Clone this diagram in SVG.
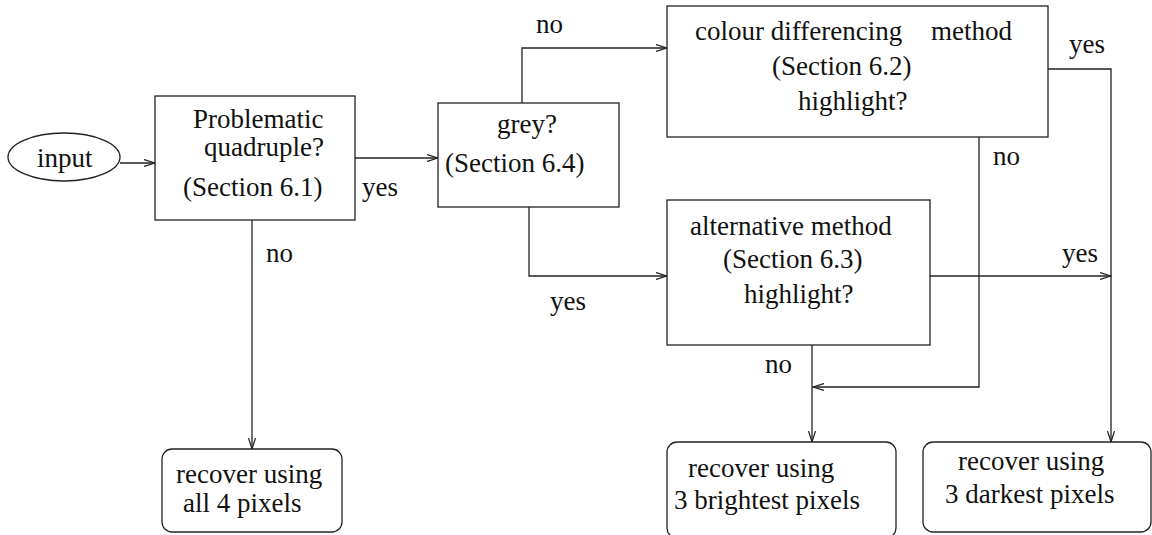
<svg xmlns="http://www.w3.org/2000/svg" width="1152" height="535" viewBox="0 0 1152 535">
<defs>
<style>
.n{fill:#fff;stroke:#222;stroke-width:1.3}
.c{fill:none;stroke:#222;stroke-width:1.3}
text{font-family:"Liberation Serif","Times New Roman",serif;font-size:27px;fill:#111}
</style>
<marker id="a" markerUnits="userSpaceOnUse" markerWidth="12" markerHeight="8" refX="11" refY="4" orient="auto">
<path d="M0,0.5 L11,4 L0,7.5" fill="none" stroke="#222" stroke-width="1.2"/>
</marker>
</defs>
<rect width="1152" height="535" fill="#fff"/>
<g id="connectors">
<path class="c" d="M120,163 H155" marker-end="url(#a)"/>
<path class="c" d="M355,158 H438" marker-end="url(#a)"/>
<path class="c" d="M252,220 V449" marker-end="url(#a)"/>
<path class="c" d="M522,103 V48 H667" marker-end="url(#a)"/>
<path class="c" d="M529,207 V276 H667" marker-end="url(#a)"/>
<path class="c" d="M1048,69 H1111 V442" marker-end="url(#a)"/>
<path class="c" d="M979,137 V387 H813" marker-end="url(#a)"/>
<path class="c" d="M930,276 H1111" marker-end="url(#a)"/>
<path class="c" d="M812,345 V442" marker-end="url(#a)"/>
<text x="362" y="196">yes</text>
<text x="266" y="262">no</text>
<text x="536" y="33">no</text>
<text x="550" y="310">yes</text>
<text x="1069" y="53">yes</text>
<text x="993" y="165">no</text>
<text x="1062" y="262">yes</text>
<text x="765" y="373">no</text>
</g>
<g id="input">
<ellipse class="n" cx="64" cy="157" rx="56" ry="24"/>
<text x="37" y="167">input</text>
</g>
<g id="problematic">
<rect class="n" x="155" y="96" width="200" height="124"/>
<text x="193" y="128">Problematic</text>
<text x="204" y="156">quadruple?</text>
<text x="183" y="196">(Section 6.1)</text>
</g>
<g id="grey">
<rect class="n" x="438" y="103" width="181" height="104"/>
<text x="497" y="133">grey?</text>
<text x="445" y="172">(Section 6.4)</text>
</g>
<g id="colour">
<rect class="n" x="667" y="6" width="381" height="131"/>
<text x="695" y="40">colour differencing<tspan x="931">method</tspan></text>
<text x="772" y="75">(Section 6.2)</text>
<text x="798" y="110">highlight?</text>
</g>
<g id="alternative">
<rect class="n" x="667" y="200" width="263" height="145"/>
<text x="690" y="235">alternative method</text>
<text x="723" y="268">(Section 6.3)</text>
<text x="744" y="303">highlight?</text>
</g>
<g id="all4">
<rect class="n" x="162" y="449" width="180" height="83" rx="10"/>
<text x="176" y="483">recover using</text>
<text x="183" y="512">all 4 pixels</text>
</g>
<g id="brightest">
<rect class="n" x="667" y="442" width="229" height="96" rx="10"/>
<text x="688" y="477">recover using</text>
<text x="674" y="509">3 brightest pixels</text>
</g>
<g id="darkest">
<rect class="n" x="923" y="442" width="228" height="90" rx="10"/>
<text x="958" y="470">recover using</text>
<text x="945" y="503">3 darkest pixels</text>
</g>
</svg>
